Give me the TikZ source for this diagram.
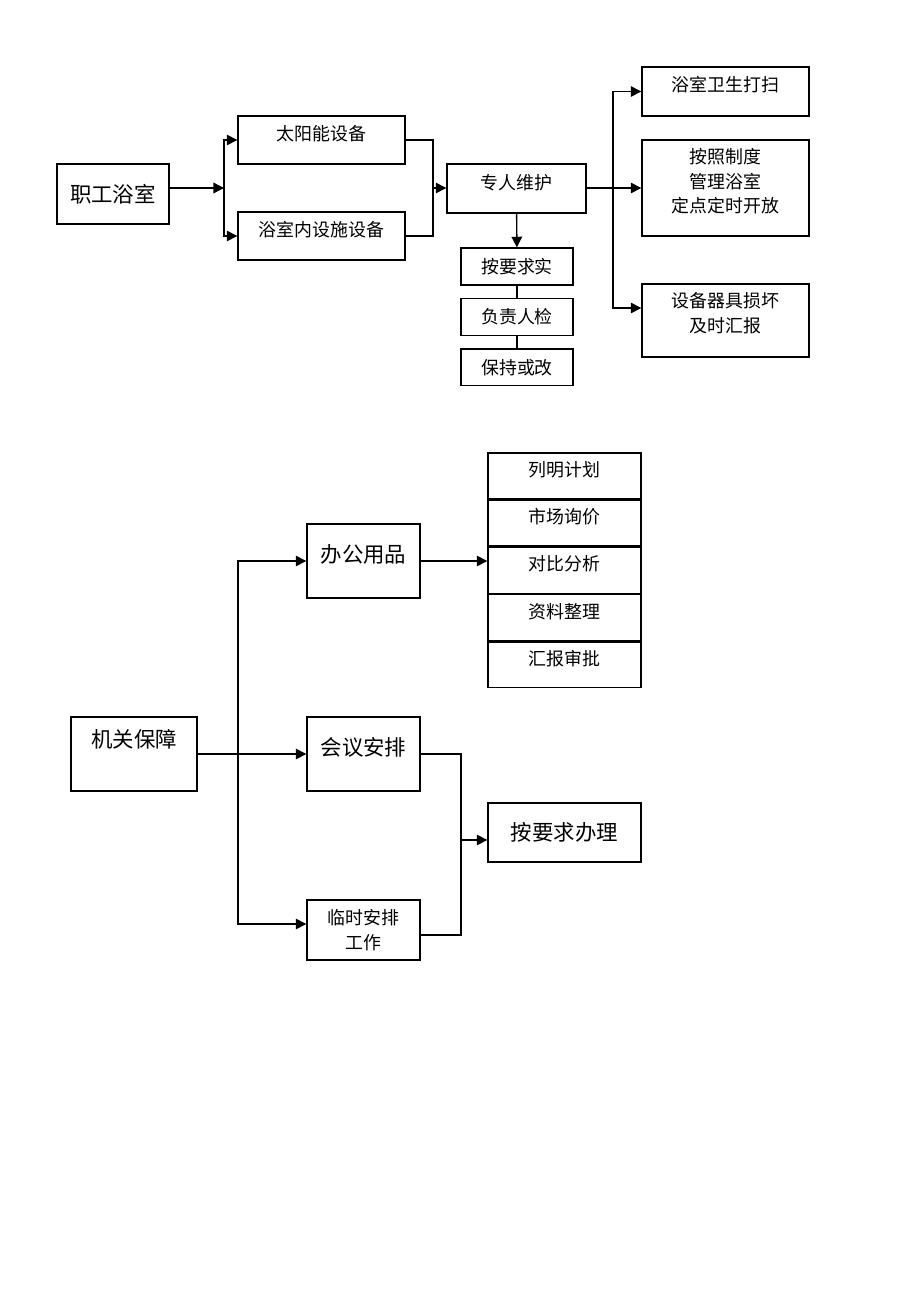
\documentclass[tikz,border=0pt]{standalone}
\usepackage{fontspec}
\setmainfont{Noto Sans CJK SC}
\usepackage{tikz}
\usetikzlibrary{arrows.meta, positioning, calc}

\begin{document}
\begin{tikzpicture}[
    x=0.02cm, y=-0.02cm,
    node distance=0.24cm,
    box/.style={rectangle, draw, line width=0.8pt, inner sep=2pt, align=center, font=\fontsize{10.2}{14}\selectfont},
    bigbox/.style={box, font=\fontsize{12.2}{15}\selectfont},
    lift/.style={text depth=#1},
    arrow/.style={-{Triangle[length=6pt,width=6pt]}, line width=0.8pt},
    line/.style={line width=0.8pt}
]
\useasboundingbox (0,0) rectangle (920,1302);

% Part 1: staff bathroom
\node[bigbox, minimum width=2.24cm, minimum height=1.2cm] (bath) at (113,194) {职工浴室};
\node[box, lift=0.3cm, minimum width=3.34cm, minimum height=0.96cm] (solar) at (321.5,140) {太阳能设备};
\node[box, lift=0.3cm, minimum width=3.34cm, minimum height=0.96cm] (facility) at (321.5,236) {浴室内设施设备};
\node[box, lift=0.26cm, minimum width=2.78cm, minimum height=0.98cm] (keeper) at (516.5,188.5) {专人维护};
\node[box, minimum width=2.24cm, minimum height=0.74cm] (check1) at (517,266.5) {按要求实};
\node[box, minimum width=2.24cm, minimum height=0.74cm, below=of check1] (check2) {负责人检};
\node[box, minimum width=2.24cm, minimum height=0.74cm, below=of check2] (check3) {保持或改};
\node[box, lift=0.3cm, minimum width=3.34cm, minimum height=0.98cm] (clean) at (725.5,91.5) {浴室卫生打扫};
\node[box, lift=0.3cm, minimum width=3.34cm, minimum height=1.92cm] (rule) at (725.5,188) {按照制度\\管理浴室\\定点定时开放};
\node[box, lift=0.32cm, minimum width=3.34cm, minimum height=1.46cm] (report) at (725.5,320.5) {设备器具损坏\\及时汇报};

\coordinate (split1) at (224,188);
\coordinate (join1) at (433,188);
\coordinate (split2) at (613,188);

\draw[arrow] (bath.east |- split1) -- (split1);
\draw[arrow] (split1) |- (solar.west);
\draw[arrow] (split1) |- (facility.west);
\draw[line] (solar.east) -| (join1) |- (facility.east);
\draw[arrow] (join1) -- (join1 -| keeper.west);
\draw[arrow] (keeper) -- (check1);
\draw[line] (check1) -- (check2);
\draw[line] (check2) -- (check3);
\draw[arrow] (keeper.east |- split2) -- (split2 -| rule.west);
\draw[arrow] (split2) |- (clean.west);
\draw[arrow] (split2) |- ([yshift=0.25cm]report.west);

% Part 2: office support
\node[bigbox, lift=0.61cm, minimum width=2.52cm, minimum height=1.48cm] (guard) at (134,754) {机关保障};
\node[bigbox, lift=0.3cm, minimum width=2.26cm, minimum height=1.48cm] (office) at (363.5,561) {办公用品};
\node[bigbox, lift=0.3cm, minimum width=2.26cm, minimum height=1.48cm] (meeting) at (363.5,754) {会议安排};
\node[box, minimum width=2.26cm, minimum height=1.2cm] (temp) at (363.5,930) {临时安排\\工作};

\node[box, lift=0.28cm, minimum width=3.06cm, minimum height=0.916cm] (plan1) at (564.5,476) {列明计划};
\node[box, lift=0.28cm, minimum width=3.06cm, minimum height=0.916cm, below=0cm of plan1] (plan2) {市场询价};
\node[box, lift=0.28cm, minimum width=3.06cm, minimum height=0.916cm, below=0cm of plan2] (plan3) {对比分析};
\node[box, lift=0.28cm, minimum width=3.06cm, minimum height=0.916cm, below=0cm of plan3] (plan4) {资料整理};
\node[box, lift=0.28cm, minimum width=3.06cm, minimum height=0.916cm, below=0cm of plan4] (plan5) {汇报审批};
\node[bigbox, minimum width=3.06cm, minimum height=1.18cm] (handle) at (564.5,832.5) {按要求办理};

\coordinate (split3) at (238,754);
\coordinate (join2) at (461,840);

\draw[arrow] (guard) -- (meeting);
\draw[arrow] (split3) |- (office.west);
\draw[arrow] (split3) |- ([yshift=0.12cm]temp.west);
\draw[arrow] (office.east) -- (office.east -| plan3.west);
\draw[line] (meeting.east) -| (join2) |- ([yshift=-0.1cm]temp.east);
\draw[arrow] (join2) -- (join2 -| handle.west);

\end{tikzpicture}
\end{document}
